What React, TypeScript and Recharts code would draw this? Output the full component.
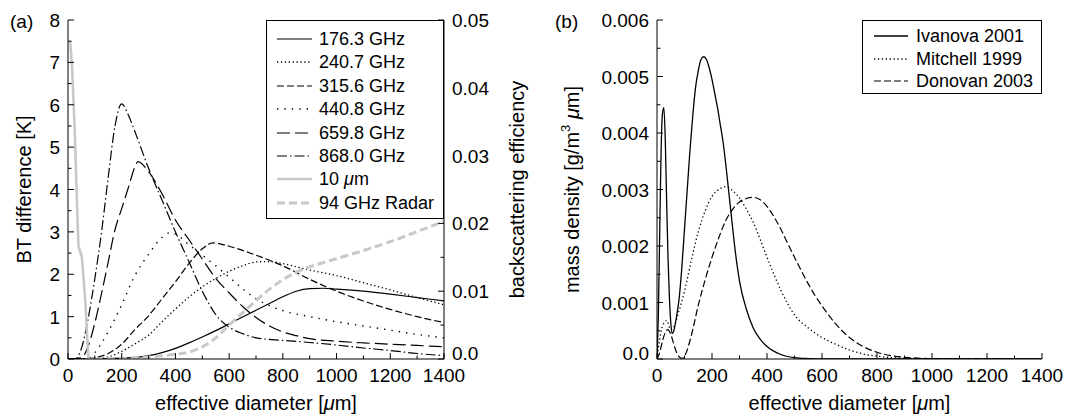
import React from 'react';
import { LineChart, Line, XAxis, YAxis, Legend, Label } from 'recharts';

const FONT = '"Liberation Sans", Arial, Helvetica, sans-serif';
const GRAY = '#c8c8c8';
const AXIS = { stroke: '#000', strokeWidth: 1 };
const TICK_FONT = { fontSize: 19, fontFamily: FONT };
const TITLE_FONT = { fontSize: 20, fontFamily: FONT };

// ---- panel (a): BT difference [K] vs effective diameter [um] ----
const diam176 = [0, 100, 200, 250, 300, 350, 400, 450, 500, 550, 600, 650, 700, 750, 800, 850, 900, 950, 1000, 1100, 1200, 1300, 1400];
const bt176 = [0, 0, 0.02, 0.04, 0.08, 0.15, 0.25, 0.38, 0.52, 0.67, 0.83, 0.99, 1.15, 1.31, 1.47, 1.6, 1.66, 1.67, 1.65, 1.6, 1.53, 1.45, 1.37];

const diam240 = [0, 100, 150, 200, 250, 300, 350, 400, 450, 500, 550, 600, 650, 700, 750, 800, 900, 1000, 1100, 1200, 1300, 1400];
const bt240 = [0, 0, 0.05, 0.18, 0.36, 0.56, 0.88, 1.18, 1.46, 1.7, 1.9, 2.07, 2.2, 2.29, 2.3, 2.25, 2.1, 1.97, 1.8, 1.63, 1.45, 1.28];

const diam315 = [0, 75, 100, 150, 200, 250, 300, 350, 400, 450, 500, 540, 600, 700, 800, 900, 1000, 1100, 1200, 1300, 1400];
const bt315 = [0, 0, 0.03, 0.13, 0.35, 0.7, 1.02, 1.42, 1.82, 2.25, 2.6, 2.74, 2.66, 2.45, 2.2, 1.88, 1.6, 1.37, 1.17, 1.0, 0.86];

const diam440 = [0, 75, 100, 150, 200, 250, 300, 350, 380, 400, 450, 500, 550, 600, 650, 700, 750, 800, 900, 1000, 1100, 1200, 1300, 1400];
const bt440 = [0, 0, 0.15, 0.65, 1.28, 1.98, 2.47, 2.87, 2.98, 2.95, 2.7, 2.45, 2.2, 1.93, 1.66, 1.42, 1.26, 1.14, 1.0, 0.88, 0.78, 0.68, 0.58, 0.5];

const diam659 = [0, 50, 75, 100, 125, 150, 175, 200, 225, 250, 260, 300, 350, 400, 450, 500, 550, 600, 650, 700, 750, 800, 850, 900, 1000, 1100, 1200, 1300, 1400];
const bt659 = [0, 0.03, 0.3, 0.85, 1.55, 2.3, 3.05, 3.55, 4.05, 4.55, 4.66, 4.42, 3.9, 3.28, 2.82, 2.36, 1.9, 1.56, 1.24, 0.98, 0.78, 0.64, 0.55, 0.48, 0.42, 0.38, 0.35, 0.32, 0.29];

const diam868 = [0, 25, 50, 75, 100, 125, 150, 175, 200, 225, 250, 300, 350, 400, 450, 500, 550, 600, 650, 700, 800, 900, 1000, 1100, 1200, 1300, 1400];
const bt868 = [0, 0, 0.25, 0.95, 1.9, 3.0, 4.3, 5.5, 6.02, 5.75, 5.35, 4.5, 3.75, 3.0, 2.3, 1.6, 1.05, 0.75, 0.6, 0.5, 0.44, 0.39, 0.33, 0.26, 0.2, 0.13, 0.08];

const diamIR = [8, 15, 25, 33, 39, 45, 52, 58, 64, 70, 75, 78, 100];
const btIR = [7.5, 6.9, 5.4, 3.8, 2.65, 2.55, 2.38, 1.9, 1.4, 0.7, 0.1, 0, 0];

// 94 GHz radar, right axis
const diamRadar = [100, 200, 300, 400, 450, 500, 550, 600, 650, 700, 750, 800, 850, 900, 950, 1000, 1100, 1200, 1300, 1400];
const backscatter = [0, 0.0001, 0.0003, 0.0007, 0.001, 0.0018, 0.0031, 0.005, 0.0068, 0.0086, 0.0103, 0.0117, 0.0128, 0.0136, 0.0142, 0.0148, 0.016, 0.0173, 0.0188, 0.0203];

// ---- panel (b): mass density [g/m3 um] ----
const diamIvanova = [0, 5, 10, 15, 20, 25, 30, 35, 40, 45, 50, 55, 60, 70, 80, 90, 100, 110, 120, 130, 140, 150, 160, 170, 180, 190, 200, 210, 220, 230, 240, 250, 260, 270, 280, 290, 300, 325, 350, 375, 400, 450, 500, 550, 600, 800, 1000, 1200, 1400];
const massIvanova = [0, 0.0008, 0.0023, 0.0037, 0.00435, 0.00445, 0.0039, 0.0028, 0.0018, 0.0011, 0.00065, 0.00045, 0.00048, 0.00072, 0.00105, 0.0016, 0.0023, 0.003, 0.0037, 0.0043, 0.0048, 0.0051, 0.0053, 0.00535, 0.0053, 0.00515, 0.00495, 0.0047, 0.00445, 0.00415, 0.00385, 0.00345, 0.003, 0.00255, 0.0021, 0.0017, 0.00138, 0.00088, 0.00055, 0.00035, 0.00022, 0.00008, 0.000025, 0.000008, 0.000002, 0, 0, 0, 0];

const diamMitchell = [0, 10, 20, 35, 50, 60, 80, 100, 125, 150, 175, 200, 225, 250, 275, 300, 325, 350, 375, 400, 425, 450, 475, 500, 550, 600, 650, 700, 750, 800, 900, 1000, 1400];
const massMitchell = [0, 0.00035, 0.00058, 0.00068, 0.00052, 0.00056, 0.00085, 0.0012, 0.00175, 0.00225, 0.00262, 0.00288, 0.003, 0.00305, 0.00298, 0.00285, 0.00265, 0.00242, 0.00212, 0.0018, 0.0015, 0.00122, 0.00098, 0.00078, 0.00055, 0.00038, 0.00026, 0.00016, 0.00009, 0.00005, 0.000012, 0.000002, 0];

const diamDonovan = [0, 10, 20, 30, 40, 50, 60, 70, 80, 90, 100, 125, 150, 175, 200, 225, 250, 275, 300, 325, 350, 375, 400, 425, 450, 475, 500, 525, 550, 575, 600, 650, 700, 750, 800, 850, 900, 1000, 1100, 1400];
const massDonovan = [0, 0.00012, 0.00032, 0.00047, 0.00052, 0.00044, 0.00028, 0.00013, 0.00004, 0.00001, 0.00005, 0.00042, 0.00095, 0.0014, 0.0018, 0.00215, 0.00245, 0.00265, 0.00278, 0.00284, 0.00286, 0.00282, 0.0027, 0.00252, 0.0023, 0.00205, 0.0018, 0.00156, 0.00133, 0.00112, 0.00094, 0.00062, 0.00038, 0.00022, 0.00012, 0.00006, 0.00003, 0.000008, 0.000002, 0];

// axis ticks
const X_TICKS = [0, 100, 200, 300, 400, 500, 600, 700, 800, 900, 1000, 1100, 1200, 1300, 1400];
const BT_TICKS = [0, 0.5, 1, 1.5, 2, 2.5, 3, 3.5, 4, 4.5, 5, 5.5, 6, 6.5, 7, 7.5, 8];
const BS_TICKS = [0, 0.005, 0.01, 0.015, 0.02, 0.025, 0.03, 0.035, 0.04, 0.045, 0.05];
const MASS_TICKS = [0, 0.0005, 0.001, 0.0015, 0.002, 0.0025, 0.003, 0.0035, 0.004, 0.0045, 0.005, 0.0055, 0.006];

const pts = (xs: number[], ys: number[]) => xs.map((d, i) => ({ d, v: ys[i] }));

const seriesA = [
  { key: '176', label: '176.3 GHz', data: pts(diam176, bt176), color: '#000', width: 1.2, dash: undefined as string | undefined, axis: 'l' },
  { key: '240', label: '240.7 GHz', data: pts(diam240, bt240), color: '#000', width: 1.3, dash: '1.3 2.6', axis: 'l' },
  { key: '315', label: '315.6 GHz', data: pts(diam315, bt315), color: '#000', width: 1.2, dash: '7 3', axis: 'l' },
  { key: '440', label: '440.8 GHz', data: pts(diam440, bt440), color: '#000', width: 1.4, dash: '1.4 6', axis: 'l' },
  { key: '659', label: '659.8 GHz', data: pts(diam659, bt659), color: '#000', width: 1.2, dash: '13 5', axis: 'l' },
  { key: '868', label: '868.0 GHz', data: pts(diam868, bt868), color: '#000', width: 1.2, dash: '10 3 1.5 3', axis: 'l' },
  { key: 'ir', label: '10 μm', data: pts(diamIR, btIR), color: GRAY, width: 2.6, dash: undefined, axis: 'l' },
  { key: 'radar', label: '94 GHz Radar', data: pts(diamRadar, backscatter), color: GRAY, width: 3, dash: '8 4', axis: 'r' },
];

const seriesB = [
  { key: 'iv', label: 'Ivanova 2001', data: pts(diamIvanova, massIvanova), color: '#000', width: 1.3, dash: undefined as string | undefined },
  { key: 'mi', label: 'Mitchell 1999', data: pts(diamMitchell, massMitchell), color: '#000', width: 1.3, dash: '1.3 2.6' },
  { key: 'do', label: 'Donovan 2003', data: pts(diamDonovan, massDonovan), color: '#000', width: 1.2, dash: '7 3' },
];

const fmtInt = (v: number) => String(Math.round(v));
const fmtBS = (v: number) => (v === 0 ? '0.0' : v.toFixed(2));
const fmtMass = (v: number) => (v === 0 ? '0.0' : v.toFixed(3));

// inward ticks (long for labelled ones, short for the minor ones)
const makeTick = (side: 'bottom' | 'top' | 'left' | 'right', major: number, fmt?: (v: number) => string) =>
  (props: any) => {
    const { x, y, payload } = props;
    const v = payload.value;
    const isMajor = Math.abs(v / major - Math.round(v / major)) < 1e-6;
    const len = isMajor ? 6 : 3.5;
    let line = null;
    if (side === 'bottom') line = <line x1={x} x2={x} y1={y} y2={y - len} />;
    if (side === 'top') line = <line x1={x} x2={x} y1={y} y2={y + len} />;
    if (side === 'left') line = <line x1={x} x2={x + len} y1={y} y2={y} />;
    if (side === 'right') line = <line x1={x} x2={x - len} y1={y} y2={y} />;
    let text = null;
    if (fmt && isMajor) {
      const s = fmt(v);
      // the "0.0" labels sit a little above their tick, as in the original
      const lift = s === '0.0' ? -6 : 0;
      if (side === 'bottom') text = <text x={x} y={y + 23} textAnchor="middle" fill="#000" style={TICK_FONT}>{s}</text>;
      if (side === 'left') text = <text x={x - 8} y={y + 7 + lift} textAnchor="end" fill="#000" style={TICK_FONT}>{s}</text>;
      if (side === 'right') text = <text x={x + 8} y={y + 7 + lift} textAnchor="start" fill="#000" style={TICK_FONT}>{s}</text>;
    }
    return (
      <g>
        <g stroke="#000" strokeWidth={1}>{line}</g>
        {text}
      </g>
    );
  };

const xTitle = (props: any) => {
  const vb = props.viewBox || { x: 0, y: 0, width: 0, height: 0 };
  return (
    <text x={vb.x + vb.width / 2} y={vb.y + 51} textAnchor="middle" fill="#000" style={TITLE_FONT}>
      effective diameter [<tspan fontStyle="italic">μ</tspan>m]
    </text>
  );
};

const yTitle = (content: React.ReactNode, dx: number) => (props: any) => {
  const vb = props.viewBox || { x: 0, y: 0, width: 0, height: 0 };
  const cx = vb.x + dx;
  const cy = vb.y + vb.height / 2;
  return (
    <text x={cx} y={cy} transform={`rotate(-90, ${cx}, ${cy})`} textAnchor="middle" dominantBaseline="central" fill="#000" style={TITLE_FONT}>
      {content}
    </text>
  );
};

const LegendBox = ({ items, w, h, rowTop, rowGap, sampleLeft, sampleLen, textLeft }: any) => (
  <div style={{ position: 'relative', width: w, height: h, boxSizing: 'border-box', border: '1px solid #000', background: '#fff', fontFamily: FONT, fontSize: 18, color: '#000' }}>
    {items.map((it: any, i: number) => (
      <div key={it.key} style={{ position: 'absolute', left: 0, top: rowTop + i * rowGap - 12, height: 24, width: '100%' }}>
        <svg style={{ position: 'absolute', left: sampleLeft, top: 0 }} width={sampleLen} height={24}>
          <line x1={0} x2={sampleLen} y1={12} y2={12} stroke={it.color} strokeWidth={it.width} strokeDasharray={it.dash} />
        </svg>
        <span style={{ position: 'absolute', left: textLeft, top: 0, lineHeight: '24px', whiteSpace: 'nowrap' }}>
          {it.key === 'ir' ? <>10 <i>μ</i>m</> : it.label}
        </span>
      </div>
    ))}
  </div>
);

const ChartA = () => (
  <LineChart width={540} height={419} margin={{ top: 20, right: 0, bottom: 0, left: 0 }}>
    <XAxis xAxisId="b" dataKey="d" type="number" domain={[0, 1400]} allowDataOverflow ticks={X_TICKS} interval={0}
      height={60} tickSize={0} tickMargin={0} tickLine={false} axisLine={AXIS} tick={makeTick('bottom', 200, fmtInt)}
      label={<Label content={xTitle} />} />
    <XAxis xAxisId="t" orientation="top" type="number" domain={[0, 1400]} allowDataOverflow ticks={X_TICKS} interval={0}
      height={0} tickSize={0} tickMargin={0} tickLine={false} axisLine={AXIS} tick={makeTick('top', 200)} />
    <YAxis yAxisId="l" type="number" domain={[0, 8]} allowDataOverflow ticks={BT_TICKS} interval={0}
      width={68} tickSize={0} tickMargin={0} tickLine={false} axisLine={AXIS} tick={makeTick('left', 1, fmtInt)}
      label={<Label content={yTitle('BT difference [K]', 24)} />} />
    <YAxis yAxisId="r" orientation="right" type="number" domain={[0, 0.05]} allowDataOverflow ticks={BS_TICKS} interval={0}
      width={96} tickSize={0} tickMargin={0} tickLine={false} axisLine={AXIS} tick={makeTick('right', 0.01, fmtBS)}
      label={<Label content={yTitle('backscattering efficiency', 73)} />} />
    {seriesA.map((s) => (
      <Line key={s.key} xAxisId="b" yAxisId={s.axis} data={s.data} dataKey="v" type={s.key === 'ir' ? 'linear' : 'monotone'}
        stroke={s.color} strokeWidth={s.width} strokeDasharray={s.dash} dot={false} activeDot={false} isAnimationActive={false} />
    ))}
    <Legend layout="vertical" align="center" verticalAlign="middle"
      wrapperStyle={{ left: 266, top: 20, width: 178, height: 199 }}
      content={() => <LegendBox items={seriesA} w={178} h={199} rowTop={18} rowGap={23.4} sampleLeft={10} sampleLen={35} textLeft={52} />} />
  </LineChart>
);

const ChartB = () => (
  <LineChart width={526} height={419} margin={{ top: 20, right: 24, bottom: 0, left: 0 }}>
    <XAxis xAxisId="b" dataKey="d" type="number" domain={[0, 1400]} allowDataOverflow ticks={X_TICKS} interval={0}
      height={60} tickSize={0} tickMargin={0} tickLine={false} axisLine={AXIS} tick={makeTick('bottom', 200, fmtInt)}
      label={<Label content={xTitle} />} />
    <XAxis xAxisId="t" orientation="top" type="number" domain={[0, 1400]} allowDataOverflow ticks={X_TICKS} interval={0}
      height={0} tickSize={0} tickMargin={0} tickLine={false} axisLine={AXIS} tick={makeTick('top', 200)} />
    <YAxis yAxisId="l" type="number" domain={[0, 0.006]} allowDataOverflow ticks={MASS_TICKS} interval={0}
      width={117} tickSize={0} tickMargin={0} tickLine={false} axisLine={AXIS} tick={makeTick('left', 0.001, fmtMass)}
      label={<Label content={yTitle(<>mass density [g/m<tspan dy={-7} style={{ fontSize: 13 }}>3</tspan><tspan dy={7}> </tspan><tspan fontStyle="italic">μ</tspan>m]</>, 32)} />} />
    <YAxis yAxisId="r" orientation="right" type="number" domain={[0, 0.006]} allowDataOverflow ticks={MASS_TICKS} interval={0}
      width={0} tickSize={0} tickMargin={0} tickLine={false} axisLine={AXIS} tick={makeTick('right', 0.001)} />
    {seriesB.map((s) => (
      <Line key={s.key} xAxisId="b" yAxisId="l" data={s.data} dataKey="v" type="monotone"
        stroke={s.color} strokeWidth={s.width} strokeDasharray={s.dash} dot={false} activeDot={false} isAnimationActive={false} />
    ))}
    <Legend layout="vertical" align="center" verticalAlign="middle"
      wrapperStyle={{ left: 322, top: 20, width: 180, height: 74 }}
      content={() => <LegendBox items={seriesB} w={180} h={74} rowTop={15} rowGap={22.5} sampleLeft={11} sampleLen={34} textLeft={53} />} />
  </LineChart>
);

export default function App() {
  return (
    <div style={{ position: 'absolute', left: 0, top: 0, width: 1066, height: 419, background: '#fff', fontFamily: FONT }}>
      <div style={{ position: 'absolute', left: 0, top: 0 }}><ChartA /></div>
      <div style={{ position: 'absolute', left: 540, top: 0 }}><ChartB /></div>
      <svg width={1066} height={419} style={{ position: 'absolute', left: 0, top: 0, pointerEvents: 'none' }}>
        <text x={10} y={28} fill="#000" style={TICK_FONT}>(a)</text>
        <text x={555} y={28} fill="#000" style={TICK_FONT}>(b)</text>
      </svg>
    </div>
  );
}
